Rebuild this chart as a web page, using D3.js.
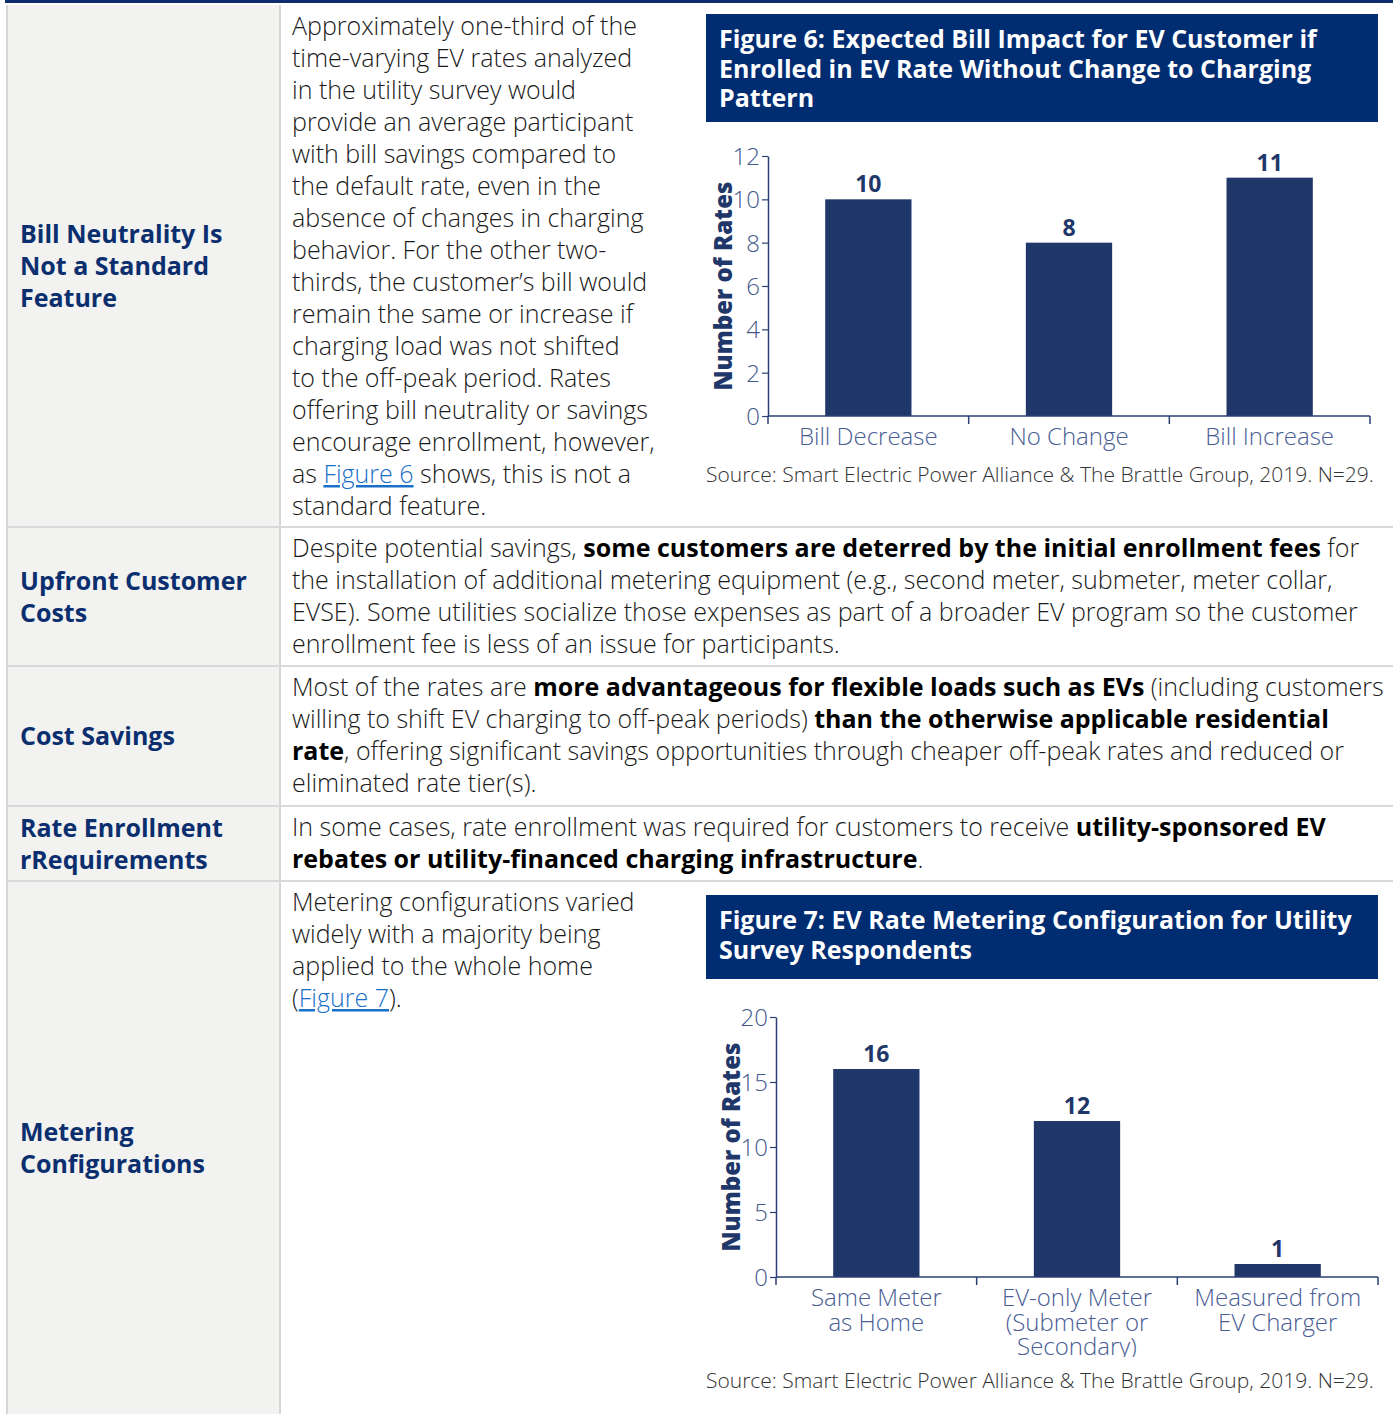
<!DOCTYPE html>
<html>
<head>
<meta charset="utf-8">
<script src="https://cdn.jsdelivr.net/npm/d3@7"></script>
<style>
  body { margin: 0; background: #fff; }
  svg text { font-family: "Open Sans", sans-serif; }
</style>
</head>
<body>
<div id="page"></div>
<script>
// ---- chart data ----
var billCategories = ["Bill Decrease", "No Change", "Bill Increase"];
var billValues = [10, 8, 11];
var billTicks = [0, 2, 4, 6, 8, 10, 12];

var meterCategories = ["Same Meter|as Home", "EV-only Meter|(Submeter or|Secondary)", "Measured from|EV Charger"];
var meterValues = [16, 12, 1];
var meterTicks = [0, 5, 10, 15, 20];

var sourceNote = "Source: Smart Electric Power Alliance & The Brattle Group, 2019. N=29.";
var fig6Title = ["Figure 6: Expected Bill Impact for EV Customer if", "Enrolled in EV Rate Without Change to Charging", "Pattern"];
var fig7Title = ["Figure 7: EV Rate Metering Configuration for Utility", "Survey Respondents"];

// ---- table text (** = bold, [..] = link) ----
var rowHeads = [
  ["Bill Neutrality Is", "Not a Standard", "Feature"],
  ["Upfront Customer", "Costs"],
  ["Cost Savings"],
  ["Rate Enrollment", "rRequirements"],
  ["Metering", "Configurations"]
];
var rowText = [
  ["Approximately one-third of the", "time-varying EV rates analyzed", "in the utility survey would",
   "provide an average participant", "with bill savings compared to", "the default rate, even in the",
   "absence of changes in charging", "behavior. For the other two-", "thirds, the customer’s bill would",
   "remain the same or increase if", "charging load was not shifted", "to the off-peak period. Rates",
   "offering bill neutrality or savings", "encourage enrollment, however,", "as [Figure 6] shows, this is not a",
   "standard feature."],
  ["Despite potential savings, **some customers are deterred by the initial enrollment fees** for",
   "the installation of additional metering equipment (e.g., second meter, submeter, meter collar,",
   "EVSE). Some utilities socialize those expenses as part of a broader EV program so the customer",
   "enrollment fee is less of an issue for participants."],
  ["Most of the rates are **more advantageous for flexible loads such as EVs** (including customers",
   "willing to shift EV charging to off-peak periods) **than the otherwise applicable residential**",
   "**rate**, offering significant savings opportunities through cheaper off-peak rates and reduced or",
   "eliminated rate tier(s)."],
  ["In some cases, rate enrollment was required for customers to receive **utility-sponsored EV**",
   "**rebates or utility-financed charging infrastructure**."],
  ["Metering configurations varied", "widely with a majority being", "applied to the whole home", "([Figure 7])."]
];

var W = 1393, H = 1414;
var navy = "#002d72", barColor = "#1f3769", headColor = "#0b2f6e";
var rowEdges = [5, 527, 666, 806, 881, 1430];
var leftX = 7, colX = 280, lineH = 32;

var svg = d3.select("#page").append("svg")
  .attr("width", W).attr("height", H);

// left column background
svg.append("rect").attr("x", leftX).attr("y", rowEdges[0])
  .attr("width", colX - leftX).attr("height", H - rowEdges[0]).attr("fill", "#f2f2f0");

// grid lines
svg.append("line").attr("x1", leftX).attr("x2", leftX).attr("y1", rowEdges[0]).attr("y2", H)
  .attr("stroke", "#d6d6d6").attr("stroke-width", 2);
svg.append("line").attr("x1", colX).attr("x2", colX).attr("y1", rowEdges[0]).attr("y2", H)
  .attr("stroke", "#d6d6d6").attr("stroke-width", 2);
rowEdges.slice(1, -1).forEach(function(y) {
  svg.append("line").attr("x1", leftX).attr("x2", W).attr("y1", y).attr("y2", y)
    .attr("stroke", "#d9d9d9").attr("stroke-width", 2);
});
svg.append("rect").attr("x", 5).attr("y", 0).attr("width", W - 5).attr("height", 3).attr("fill", "#0f2c6e");

// row headings, vertically centred in each row
rowHeads.forEach(function(lines, i) {
  var top = rowEdges[i], bot = Math.min(rowEdges[i + 1], H);
  var mid = (top + bot) / 2;
  var y0 = mid - (lines.length - 1) * lineH / 2 + 9;
  var t = svg.append("text").attr("fill", headColor).attr("font-size", 25).attr("font-weight", 700);
  lines.forEach(function(s, k) {
    t.append("tspan").attr("x", 20).attr("y", y0 + k * lineH).text(s);
  });
});

// paragraph text
function richLine(parent, str, x, y) {
  var t = parent.append("text").attr("x", x).attr("y", y)
    .attr("font-size", 25).attr("font-weight", 300).attr("fill", "#1a1a1a");
  str.split(/(\*\*.*?\*\*|\[.*?\])/).forEach(function(seg) {
    if (!seg) return;
    if (seg.slice(0, 2) === "**") {
      t.append("tspan").attr("font-weight", 700).attr("fill", "#000").text(seg.slice(2, -2));
    } else if (seg[0] === "[") {
      t.append("tspan").attr("fill", "#1a6fc9").attr("text-decoration", "underline").text(seg.slice(1, -1));
    } else {
      t.append("tspan").text(seg);
    }
  });
}
rowText.forEach(function(lines, i) {
  lines.forEach(function(s, k) {
    richLine(svg, s, 292, rowEdges[i] + 30 + k * lineH);
  });
});

// ---- bar charts ----
function titleBox(lines, top, h) {
  svg.append("rect").attr("x", 706).attr("y", top).attr("width", 672).attr("height", h).attr("fill", navy);
  var t = svg.append("text").attr("fill", "#fff").attr("font-size", 25).attr("font-weight", 700);
  lines.forEach(function(s, k) {
    t.append("tspan").attr("x", 719).attr("y", top + 34 + k * 29.5).text(s);
  });
}

function barChart(o) {
  var g = svg.append("g");
  var x = d3.scaleBand().domain(o.cats).range([o.x0, o.x1]).paddingInner(0.57).paddingOuter(0.285);
  var y = d3.scaleLinear().domain([0, o.max]).range([o.y0, o.y1]);
  var axisCol = "#2b3f73", tickCol = "#44598c";

  // bars
  g.selectAll(".bar").data(o.vals).enter().append("rect")
    .attr("x", function(d, i) { return x(o.cats[i]); })
    .attr("y", function(d) { return y(d); })
    .attr("width", x.bandwidth())
    .attr("height", function(d) { return y(0) - y(d); })
    .attr("fill", barColor);

  // value labels
  g.selectAll(".val").data(o.vals).enter().append("text")
    .attr("x", function(d, i) { return x(o.cats[i]) + x.bandwidth() / 2; })
    .attr("y", function(d) { return y(d) - 7; })
    .attr("text-anchor", "middle").attr("font-size", 23).attr("font-weight", 700)
    .attr("fill", barColor).text(function(d) { return d; });

  // y axis
  var ya = g.append("g").attr("transform", "translate(" + o.x0 + ",0)")
    .call(d3.axisLeft(y).tickValues(o.ticks).tickSize(6).tickSizeOuter(0).tickPadding(2));
  ya.select(".domain").attr("stroke", axisCol).attr("stroke-width", 1.5);
  ya.selectAll(".tick line").attr("stroke", axisCol).attr("stroke-width", 1.2);
  ya.selectAll(".tick text").attr("font-size", 24).attr("font-weight", 300)
    .attr("font-family", "Open Sans").attr("fill", tickCol).attr("dy", "0.36em");

  // x axis: line plus ticks at band edges
  g.append("line").attr("x1", o.x0).attr("x2", o.x1).attr("y1", o.y0).attr("y2", o.y0)
    .attr("stroke", axisCol).attr("stroke-width", 1.5);
  var step = x.step();
  d3.range(o.cats.length + 1).forEach(function(i) {
    var xx = o.x0 + i * step;
    g.append("line").attr("x1", xx).attr("x2", xx).attr("y1", o.y0).attr("y2", o.y0 + 8)
      .attr("stroke", axisCol).attr("stroke-width", 1.5);
  });

  // category labels (clipped like the original)
  var clipId = "clip" + o.y0;
  svg.append("clipPath").attr("id", clipId).append("rect")
    .attr("x", o.x0 - 20).attr("y", o.y0).attr("width", o.x1 - o.x0 + 40).attr("height", o.labelClip);
  var lab = g.append("g").attr("clip-path", "url(#" + clipId + ")");
  o.cats.forEach(function(c, i) {
    var cx = x(c) + x.bandwidth() / 2;
    c.split("|").forEach(function(s, k) {
      lab.append("text").attr("text-anchor", "middle").attr("font-size", 24).attr("font-weight", 300)
        .attr("fill", "#4a5d94").attr("x", cx).attr("y", o.y0 + 29 + k * 24.5).text(s);
    });
  });

  // y title
  g.append("text")
    .attr("transform", "translate(" + (o.x0 - 36) + "," + ((o.y0 + o.y1) / 2) + ") rotate(-90)")
    .attr("text-anchor", "middle").attr("font-size", 24).attr("font-weight", 800)
    .attr("fill", barColor).text("Number of Rates");

  // source note
  g.append("text").attr("x", 706).attr("y", o.srcY).attr("font-size", 21).attr("font-weight", 300)
    .attr("fill", "#333").text(sourceNote);
}

titleBox(fig6Title, 14, 108);
barChart({ cats: billCategories, vals: billValues, ticks: billTicks, max: 12,
  x0: 768, x1: 1370, y0: 416, y1: 156, srcY: 482, labelClip: 40 });

titleBox(fig7Title, 895, 84);
barChart({ cats: meterCategories, vals: meterValues, ticks: meterTicks, max: 20,
  x0: 776, x1: 1378, y0: 1277, y1: 1017, srcY: 1388, labelClip: 80 });
</script>
</body>
</html>
